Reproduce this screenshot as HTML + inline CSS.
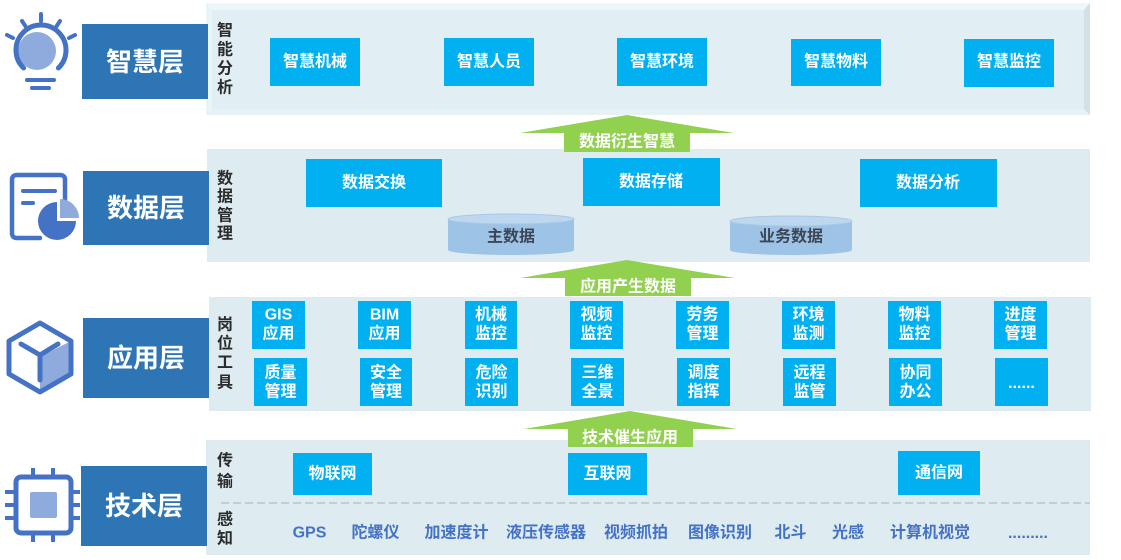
<!DOCTYPE html>
<html><head><meta charset="utf-8"><style>
html,body{margin:0;padding:0;background:#fff;width:1121px;height:560px;overflow:hidden}
svg{display:block}
text{font-family:"Liberation Sans","Noto Sans CJK SC",sans-serif}
.w{fill:#fff;font-weight:700;font-size:16px}
.lb{fill:#fff;font-weight:700;font-size:26px}
.v{fill:#2b2b2b;font-weight:700;font-size:16px}
.s{fill:#4472c4;font-weight:700;font-size:16px}
.c{fill:#3d4654;font-size:16px;font-weight:700}
</style></head><body>
<svg width="1121" height="560" viewBox="0 0 1121 560" xmlns="http://www.w3.org/2000/svg">
<!-- panels -->
<rect x="206" y="3" width="884" height="112" fill="#e1eff4"/>
<polygon points="206,3 1090,3 1084,10 212,10" fill="#edf7fa"/>
<polygon points="206,3 212,10 212,109 206,115" fill="#e9f4f7"/>
<polygon points="206,115 212,109 1084,109 1090,115" fill="#e6f2f6"/>
<polygon points="1090,3 1084,10 1084,109 1090,115" fill="#d5e0e4"/>
<rect x="207" y="149" width="883" height="113" fill="#deebf0"/>
<rect x="209" y="297" width="882" height="114" fill="#deebf0"/>
<rect x="206" y="440" width="884" height="115" fill="#deebf0"/>
<line x1="221" y1="503" x2="1090" y2="503" stroke="#c5cdd1" stroke-width="2" stroke-dasharray="8,4"/>

<!-- layer labels -->
<rect x="82" y="24" width="126" height="75" fill="#2e75b6"/>
<text class="lb" x="145" y="62" text-anchor="middle" dominant-baseline="central">智慧层</text>
<rect x="83" y="171" width="126" height="74" fill="#2e75b6"/>
<text class="lb" x="146" y="208" text-anchor="middle" dominant-baseline="central">数据层</text>
<rect x="83" y="318" width="126" height="80" fill="#2e75b6"/>
<text class="lb" x="146" y="358" text-anchor="middle" dominant-baseline="central">应用层</text>
<rect x="81" y="466" width="126" height="80" fill="#2e75b6"/>
<text class="lb" x="144" y="506" text-anchor="middle" dominant-baseline="central">技术层</text>

<!-- icons -->
<g stroke="#4472c4" stroke-linecap="round" fill="none">
  <circle cx="37" cy="51" r="19" fill="#8faadc" stroke="none"/>
  <path d="M23.6,68 A25,25 0 1 1 58.4,68" stroke-width="5"/>
  <line x1="41" y1="14" x2="41" y2="21" stroke-width="4"/>
  <line x1="22" y1="21" x2="26" y2="27" stroke-width="4"/>
  <line x1="60" y1="21" x2="56" y2="27" stroke-width="4"/>
  <line x1="7" y1="35" x2="13" y2="38" stroke-width="4"/>
  <line x1="75" y1="35" x2="69" y2="38" stroke-width="4"/>
  <line x1="27" y1="80" x2="54" y2="80" stroke-width="4"/>
  <line x1="32" y1="88" x2="49" y2="88" stroke-width="4"/>

  <path d="M65,210 L65,180 Q65,175 60,175 L17,175 Q12,175 12,180 L12,233 Q12,238 17,238 L40,238" stroke-width="4.5" stroke-linejoin="round"/>
  <line x1="23" y1="191" x2="55" y2="191" stroke-width="4"/>
  <line x1="23" y1="203" x2="33" y2="203" stroke-width="4"/>
  <path d="M57,221 L76,221 A19,19 0 1 1 57,202 Z" fill="#4472c4" stroke="none"/>
  <path d="M60,218 L60,199 A19,19 0 0 1 79,218 Z" fill="#8faadc" stroke="none"/>

  <polygon points="40,357 69,342 69,374 40,390" fill="#8faadc" stroke="none"/>
  <polygon points="40,323 71,341 71,374 40,392 9,374 9,341" stroke-width="5" stroke-linejoin="round"/>
  <line x1="40" y1="355" x2="21" y2="344" stroke-width="5"/>
  <line x1="40" y1="355" x2="58" y2="344" stroke-width="5"/>
  <line x1="40" y1="355" x2="40" y2="380" stroke-width="5"/>

  <rect x="30" y="492" width="27" height="26" rx="2" fill="#8faadc" stroke="none"/>
  <rect x="16" y="477" width="55" height="56" rx="5" stroke-width="5"/>
  <g stroke-width="4" stroke-linecap="butt">
  <line x1="33" y1="468" x2="33" y2="477"/><line x1="53" y1="468" x2="53" y2="477"/>
  <line x1="33" y1="533" x2="33" y2="542"/><line x1="53" y1="533" x2="53" y2="542"/>
  <line x1="5" y1="492" x2="16" y2="492"/><line x1="5" y1="505" x2="16" y2="505"/><line x1="5" y1="518" x2="16" y2="518"/>
  <line x1="71" y1="492" x2="80" y2="492"/><line x1="71" y1="505" x2="80" y2="505"/><line x1="71" y1="518" x2="80" y2="518"/>
  </g>
</g>

<!-- vertical labels -->
<text class="v" x="225" y="31" text-anchor="middle" dominant-baseline="central">智</text>
<text class="v" x="225" y="50" text-anchor="middle" dominant-baseline="central">能</text>
<text class="v" x="225" y="69" text-anchor="middle" dominant-baseline="central">分</text>
<text class="v" x="225" y="88" text-anchor="middle" dominant-baseline="central">析</text>
<text class="v" x="225" y="179" text-anchor="middle" dominant-baseline="central">数</text>
<text class="v" x="225" y="197" text-anchor="middle" dominant-baseline="central">据</text>
<text class="v" x="225" y="216" text-anchor="middle" dominant-baseline="central">管</text>
<text class="v" x="225" y="234" text-anchor="middle" dominant-baseline="central">理</text>
<text class="v" x="225" y="325" text-anchor="middle" dominant-baseline="central">岗</text>
<text class="v" x="225" y="344" text-anchor="middle" dominant-baseline="central">位</text>
<text class="v" x="225" y="363" text-anchor="middle" dominant-baseline="central">工</text>
<text class="v" x="225" y="383" text-anchor="middle" dominant-baseline="central">具</text>
<text class="v" x="225" y="461" text-anchor="middle" dominant-baseline="central">传</text>
<text class="v" x="225" y="482" text-anchor="middle" dominant-baseline="central">输</text>
<text class="v" x="225" y="520" text-anchor="middle" dominant-baseline="central">感</text>
<text class="v" x="225" y="539" text-anchor="middle" dominant-baseline="central">知</text>

<!-- top boxes -->
<g fill="#00b0f0">
<rect x="270" y="38" width="90" height="48"/>
<rect x="444" y="38" width="90" height="48"/>
<rect x="617" y="38" width="90" height="48"/>
<rect x="791" y="39" width="90" height="47"/>
<rect x="964" y="39" width="90" height="48"/>
</g>
<text class="w" x="315" y="62" text-anchor="middle" dominant-baseline="central">智慧机械</text>
<text class="w" x="489" y="62" text-anchor="middle" dominant-baseline="central">智慧人员</text>
<text class="w" x="662" y="62" text-anchor="middle" dominant-baseline="central">智慧环境</text>
<text class="w" x="836" y="62" text-anchor="middle" dominant-baseline="central">智慧物料</text>
<text class="w" x="1009" y="62" text-anchor="middle" dominant-baseline="central">智慧监控</text>

<!-- data boxes -->
<g fill="#00b0f0">
<rect x="306" y="159" width="136" height="48"/>
<rect x="583" y="158" width="137" height="48"/>
<rect x="860" y="159" width="137" height="48"/>
</g>
<text class="w" x="374" y="183" text-anchor="middle" dominant-baseline="central">数据交换</text>
<text class="w" x="651" y="182" text-anchor="middle" dominant-baseline="central">数据存储</text>
<text class="w" x="928" y="183" text-anchor="middle" dominant-baseline="central">数据分析</text>

<!-- cylinders -->
<path d="M448,219 L448,250 A63,5 0 0 0 574,250 L574,219 Z" fill="#9dc3e6"/>
<ellipse cx="511" cy="219" rx="63" ry="5" fill="#bdd7ee" stroke="#a9c9e8" stroke-width="1"/>
<text class="c" x="511" y="237" text-anchor="middle" dominant-baseline="central">主数据</text>
<path d="M730,221 L730,250 A61,5 0 0 0 852,250 L852,221 Z" fill="#9dc3e6"/>
<ellipse cx="791" cy="221" rx="61" ry="5" fill="#bdd7ee" stroke="#a9c9e8" stroke-width="1"/>
<text class="c" x="791" y="237" text-anchor="middle" dominant-baseline="central">业务数据</text>

<!-- arrows -->
<polygon points="627,115 734,133 690,133 690,152 564,152 564,133 520,133" fill="#92d050"/>
<text class="w" x="627" y="142" text-anchor="middle" dominant-baseline="central">数据衍生智慧</text>
<polygon points="627,260 735,278 691,278 691,296 565,296 565,278 520,278" fill="#92d050"/>
<text class="w" x="628" y="287" text-anchor="middle" dominant-baseline="central">应用产生数据</text>
<polygon points="630,411 737,429 693,429 693,447 568,447 568,429 524,429" fill="#92d050"/>
<text class="w" x="630" y="438" text-anchor="middle" dominant-baseline="central">技术催生应用</text>

<!-- app boxes -->
<g fill="#00b0f0">
<rect x="252" y="301" width="53" height="48"/><rect x="358" y="301" width="53" height="48"/>
<rect x="465" y="301" width="52" height="48"/><rect x="570" y="301" width="53" height="48"/>
<rect x="676" y="301" width="53" height="48"/><rect x="782" y="301" width="53" height="48"/>
<rect x="888" y="301" width="53" height="48"/><rect x="994" y="301" width="53" height="48"/>
<rect x="254" y="358" width="53" height="48"/><rect x="360" y="358" width="52" height="48"/>
<rect x="465" y="358" width="53" height="48"/><rect x="571" y="358" width="53" height="48"/>
<rect x="677" y="358" width="53" height="48"/><rect x="783" y="358" width="53" height="48"/>
<rect x="889" y="358" width="53" height="48"/><rect x="995" y="358" width="53" height="48"/>
</g>
<text class="w" x="278.5" y="315" text-anchor="middle" dominant-baseline="central">GIS</text>
<text class="w" x="278.5" y="334" text-anchor="middle" dominant-baseline="central">应用</text>
<text class="w" x="384.5" y="315" text-anchor="middle" dominant-baseline="central">BIM</text>
<text class="w" x="384.5" y="334" text-anchor="middle" dominant-baseline="central">应用</text>
<text class="w" x="491" y="315" text-anchor="middle" dominant-baseline="central">机械</text>
<text class="w" x="491" y="334" text-anchor="middle" dominant-baseline="central">监控</text>
<text class="w" x="596.5" y="315" text-anchor="middle" dominant-baseline="central">视频</text>
<text class="w" x="596.5" y="334" text-anchor="middle" dominant-baseline="central">监控</text>
<text class="w" x="702.5" y="315" text-anchor="middle" dominant-baseline="central">劳务</text>
<text class="w" x="702.5" y="334" text-anchor="middle" dominant-baseline="central">管理</text>
<text class="w" x="808.5" y="315" text-anchor="middle" dominant-baseline="central">环境</text>
<text class="w" x="808.5" y="334" text-anchor="middle" dominant-baseline="central">监测</text>
<text class="w" x="914.5" y="315" text-anchor="middle" dominant-baseline="central">物料</text>
<text class="w" x="914.5" y="334" text-anchor="middle" dominant-baseline="central">监控</text>
<text class="w" x="1020.5" y="315" text-anchor="middle" dominant-baseline="central">进度</text>
<text class="w" x="1020.5" y="334" text-anchor="middle" dominant-baseline="central">管理</text>

<text class="w" x="280.5" y="373" text-anchor="middle" dominant-baseline="central">质量</text>
<text class="w" x="280.5" y="392" text-anchor="middle" dominant-baseline="central">管理</text>
<text class="w" x="386" y="373" text-anchor="middle" dominant-baseline="central">安全</text>
<text class="w" x="386" y="392" text-anchor="middle" dominant-baseline="central">管理</text>
<text class="w" x="491.5" y="373" text-anchor="middle" dominant-baseline="central">危险</text>
<text class="w" x="491.5" y="392" text-anchor="middle" dominant-baseline="central">识别</text>
<text class="w" x="597.5" y="373" text-anchor="middle" dominant-baseline="central">三维</text>
<text class="w" x="597.5" y="392" text-anchor="middle" dominant-baseline="central">全景</text>
<text class="w" x="703.5" y="373" text-anchor="middle" dominant-baseline="central">调度</text>
<text class="w" x="703.5" y="392" text-anchor="middle" dominant-baseline="central">指挥</text>
<text class="w" x="809.5" y="373" text-anchor="middle" dominant-baseline="central">远程</text>
<text class="w" x="809.5" y="392" text-anchor="middle" dominant-baseline="central">监管</text>
<text class="w" x="915.5" y="373" text-anchor="middle" dominant-baseline="central">协同</text>
<text class="w" x="915.5" y="392" text-anchor="middle" dominant-baseline="central">办公</text>
<text class="w" x="1021.5" y="388" text-anchor="middle">......</text>

<!-- tech boxes -->
<g fill="#00b0f0">
<rect x="293" y="453" width="79" height="42"/>
<rect x="568" y="453" width="79" height="42"/>
<rect x="898" y="451" width="82" height="44"/>
</g>
<text class="w" x="332.5" y="474" text-anchor="middle" dominant-baseline="central">物联网</text>
<text class="w" x="607.5" y="474" text-anchor="middle" dominant-baseline="central">互联网</text>
<text class="w" x="939" y="473" text-anchor="middle" dominant-baseline="central">通信网</text>

<!-- sensing -->
<text class="s" x="309.5" y="533" text-anchor="middle" dominant-baseline="central">GPS</text>
<text class="s" x="375.5" y="533" text-anchor="middle" dominant-baseline="central">陀螺仪</text>
<text class="s" x="456.5" y="533" text-anchor="middle" dominant-baseline="central">加速度计</text>
<text class="s" x="546" y="533" text-anchor="middle" dominant-baseline="central">液压传感器</text>
<text class="s" x="636" y="533" text-anchor="middle" dominant-baseline="central">视频抓拍</text>
<text class="s" x="720" y="533" text-anchor="middle" dominant-baseline="central">图像识别</text>
<text class="s" x="790.5" y="533" text-anchor="middle" dominant-baseline="central">北斗</text>
<text class="s" x="848" y="533" text-anchor="middle" dominant-baseline="central">光感</text>
<text class="s" x="930" y="533" text-anchor="middle" dominant-baseline="central">计算机视觉</text>
<text class="s" x="1028" y="538" text-anchor="middle">.........</text>
</svg>
</body></html>
